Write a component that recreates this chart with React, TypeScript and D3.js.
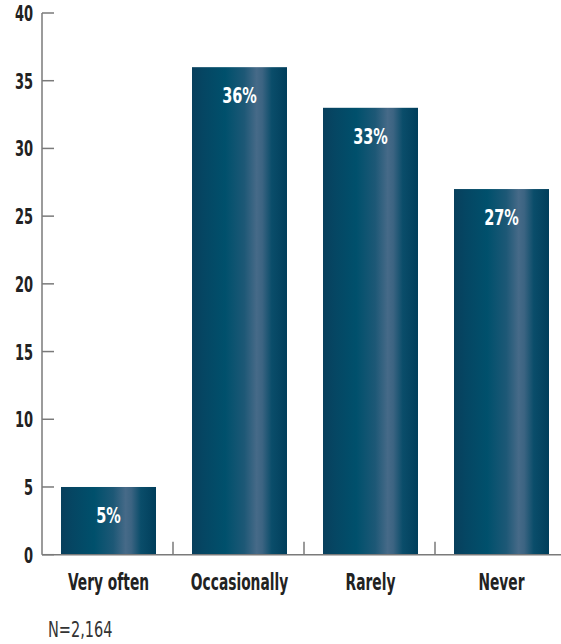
import React from "react";
import * as d3 from "d3";

const categories = ["Very often", "Occasionally", "Rarely", "Never"];
const values = [5, 36, 33, 27];
const valueLabels = ["5%", "36%", "33%", "27%"];
const yTicks = [0, 5, 10, 15, 20, 25, 30, 35, 40];
const note = "N=2,164";

const W = 561;
const H = 644;
const FONT = "'DejaVu Sans', sans-serif";

function CText(props: {
  x: number;
  y: number;
  sx: number;
  anchor?: "start" | "middle" | "end";
  fill: string;
  size: number;
  weight?: string;
  children: React.ReactNode;
}) {
  return (
    <text
      transform={`translate(${props.x},${props.y}) scale(${props.sx},1)`}
      textAnchor={props.anchor || "start"}
      fill={props.fill}
      fontFamily={FONT}
      fontWeight={props.weight || "normal"}
      fontSize={props.size}
    >
      {props.children}
    </text>
  );
}

export default function App() {
  const x0 = 42;
  const y = d3.scaleLinear().domain([0, 40]).range([554.7, 13]);
  const x = d3.scaleBand<string>().domain(categories).range([x0, x0 + 4 * 131]).paddingInner(0).paddingOuter(0);
  const barW = 95;
  const barOff = 19;
  const axisColor = "#7a7a7a";

  return (
    <svg width={W} height={H} style={{ position: "absolute", left: 0, top: 0 }}>
      <defs>
        <linearGradient id="barGrad" x1="0" x2="1" y1="0" y2="0">
          <stop offset="0%" stopColor="#083f5c" />
          <stop offset="12%" stopColor="#054663" />
          <stop offset="35%" stopColor="#00506c" />
          <stop offset="55%" stopColor="#1d5876" />
          <stop offset="68%" stopColor="#466a88" />
          <stop offset="74%" stopColor="#3c6482" />
          <stop offset="84%" stopColor="#0a4d6a" />
          <stop offset="100%" stopColor="#003e5b" />
        </linearGradient>
      </defs>
      {categories.map((c, i) => (
        <rect
          key={c}
          x={(x(c) as number) + barOff}
          y={y(values[i])}
          width={barW}
          height={y(0) - y(values[i])}
          fill="url(#barGrad)"
        />
      ))}
      {categories.map((c, i) => (
        <CText
          key={c + "v"}
          x={(x(c) as number) + barOff + barW / 2}
          y={y(values[i]) + 36}
          sx={0.66}
          anchor="middle"
          fill="#ffffff"
          weight="bold"
          size={22}
        >
          {valueLabels[i]}
        </CText>
      ))}
      <line x1={x0} x2={x0} y1={y(40)} y2={y(0)} stroke={axisColor} strokeWidth={1.5} />
      {yTicks.map((t) => (
        <g key={t}>
          <line x1={x0} x2={x0 + 12} y1={y(t)} y2={y(t)} stroke={axisColor} strokeWidth={1.5} />
          <CText x={33} y={y(t) + 8} sx={0.62} anchor="end" fill="#222" weight="bold" size={21}>
            {t}
          </CText>
        </g>
      ))}
      <line x1={x0} x2={W} y1={y(0)} y2={y(0)} stroke={axisColor} strokeWidth={1.5} />
      {categories.slice(1).map((c) => (
        <line
          key={c + "t"}
          x1={x(c) as number}
          x2={x(c) as number}
          y1={y(0)}
          y2={y(0) - 13}
          stroke={axisColor}
          strokeWidth={1.5}
        />
      ))}
      {categories.map((c) => (
        <CText
          key={c + "l"}
          x={(x(c) as number) + barOff + barW / 2}
          y={590}
          sx={0.6}
          anchor="middle"
          fill="#222"
          weight="bold"
          size={23}
        >
          {c}
        </CText>
      ))}
      <CText x={48} y={637} sx={0.66} fill="#333" size={22}>
        {note}
      </CText>
    </svg>
  );
}
